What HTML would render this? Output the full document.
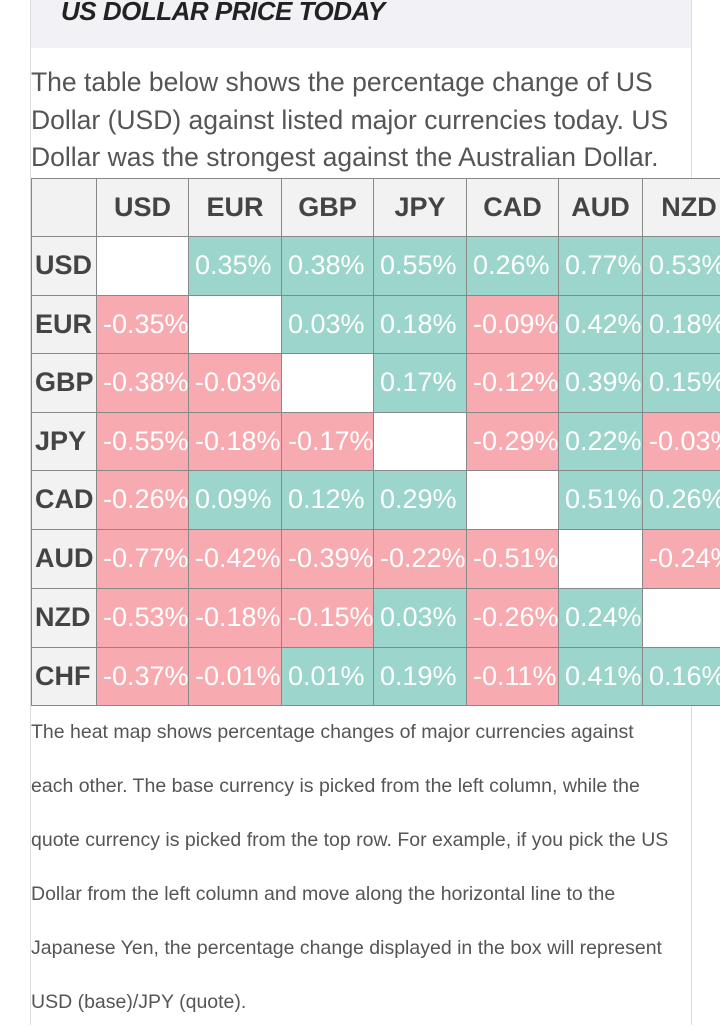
<!DOCTYPE html>
<html><head><meta charset="utf-8"><style>
body{margin:0;width:720px;height:1025px;overflow:hidden;background:#fff;font-family:"Liberation Sans",sans-serif;position:relative}
#vl{position:absolute;left:30px;top:0;width:1px;height:1025px;background:#ddd}
#vr{position:absolute;left:691px;top:0;width:1px;height:1025px;background:#ddd}
#hdr{position:absolute;left:31px;top:0;width:660px;height:48px;background:#f2f2f6}
#hdr span{position:absolute;left:30px;top:-4px;font-size:26px;font-weight:bold;font-style:italic;color:#222;letter-spacing:-0.5px}
#intro{position:absolute;left:31px;top:64px;width:680px;font-size:26.5px;line-height:37.5px;color:#555;margin:0}
#outro{position:absolute;left:31px;top:705px;width:690px;font-size:19.5px;line-height:54px;color:#555;margin:0;white-space:nowrap}
.c{position:absolute;box-sizing:border-box;border:1px solid #888;font-size:27px;line-height:57px;white-space:nowrap;overflow:hidden;padding-left:6px}
.h{background:#f2f2f2;color:#444;font-weight:bold;text-align:center;padding:0}
.rh{background:#f2f2f2;color:#444;font-weight:bold;padding-left:3px}
.pos{background:#9bd5cc;color:#fff}
.neg{background:#f7aab0;color:#fff}
.emp{background:#fff}
</style></head><body>
<div id="vl"></div>
<div id="vr"></div>
<div id="hdr"><span>US DOLLAR PRICE TODAY</span></div>
<p id="intro">The table below shows the percentage change of US Dollar (USD) against listed major currencies today. US Dollar was the strongest against the Australian Dollar.</p>
<div id="tbl"></div>
<p id="outro">The heat map shows percentage changes of major currencies against<br>each other. The base currency is picked from the left column, while the<br>quote currency is picked from the top row. For example, if you pick the US<br>Dollar from the left column and move along the horizontal line to the<br>Japanese Yen, the percentage change displayed in the box will represent<br>USD (base)/JPY (quote).</p>
<script>
const cols=["USD","EUR","GBP","JPY","CAD","AUD","NZD"];
const rows=["USD","EUR","GBP","JPY","CAD","AUD","NZD","CHF"];
const rUSD=[null,0.35,0.38,0.55,0.26,0.77,0.53];
const rEUR=[-0.35,null,0.03,0.18,-0.09,0.42,0.18];
const rGBP=[-0.38,-0.03,null,0.17,-0.12,0.39,0.15];
const rJPY=[-0.55,-0.18,-0.17,null,-0.29,0.22,-0.03];
const rCAD=[-0.26,0.09,0.12,0.29,null,0.51,0.26];
const rAUD=[-0.77,-0.42,-0.39,-0.22,-0.51,null,-0.24];
const rNZD=[-0.53,-0.18,-0.15,0.03,-0.26,0.24,null];
const rCHF=[-0.37,-0.01,0.01,0.19,-0.11,0.41,0.16];
const vals=[rUSD,rEUR,rGBP,rJPY,rCAD,rAUD,rNZD,rCHF];
const xe=[31,96,188,281,373,466,558,642,735];
const ye=[178,236,295,353,412,470,529,588,647,705];
const t=document.getElementById('tbl');
function cell(ci,ri,cls,txt){
 const d=document.createElement('div');
 d.className='c '+cls;
 d.style.left=xe[ci]+'px';d.style.top=ye[ri]+'px';
 d.style.width=(xe[ci+1]-xe[ci]+1)+'px';d.style.height=(ye[ri+1]-ye[ri]+1)+'px';
 d.textContent=txt;t.appendChild(d);return d;}
let e=cell(0,0,'h','');


cols.forEach((c,i)=>{const d=cell(i+1,0,'h',c);

});
rows.forEach((r,ri)=>{
 const d=cell(0,ri+1,'rh',r);
 
 
 vals[ri].forEach((v,ci)=>{
  const cls=v===null?'emp':(v<0?'neg':'pos');
  const txt=v===null?'':v.toFixed(2)+'%';
  const k=cell(ci+1,ri+1,cls,txt);
  
  
 });
});
</script>
</body></html>
